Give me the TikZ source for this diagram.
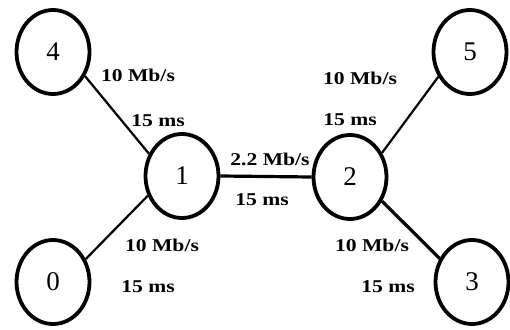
\documentclass[tikz,border=0pt]{standalone}
\usepackage{fontspec}
\setmainfont{Liberation Serif}
\newfontfamily\lblfont[FakeStretch=1.2]{Liberation Serif}
\usetikzlibrary{shapes.geometric}
\tikzset{
  host/.style={draw, ellipse, line width=3.8pt, minimum width=73pt, minimum height=84pt,
    inner sep=0pt, font=\fontsize{27}{27}\selectfont},
  link/.style={line width=2.2pt},
  biglink/.style={line width=3.2pt},
  lbl/.style={font=\lblfont\bfseries\fontsize{18}{18}\selectfont, inner sep=0pt}
}
\begin{document}
\begin{tikzpicture}[x=1pt,y=-1pt]
  \useasboundingbox (0,0) rectangle (510,329);
  % routers and end hosts
  \node[host] (n4) at (53,52)   {4};
  \node[host] (n5) at (470,52)  {5};
  \node[host] (n1) at (182,176) {1};
  \node[host] (n2) at (350,177) {2};
  \node[host] (n0) at (53,282)  {0};
  \node[host] (n3) at (472,282) {3};
  % links
  \draw[link]    (n4.-37) -- (n1.146);
  \draw[link]    (n1.210) -- (n0.35);
  \draw[link]    (n2.37)  -- (n5.218);
  \draw[biglink] (n2.-37) -- (n3.144);
  \draw[biglink] (n1.east) -- (n2.west);
  % link parameters
  \node[lbl] (b41) at (138,75)  {10 Mb/s};
  \node[lbl] (d41) at (158,121) {15 ms};
  \node[lbl] (b12) at (270,159) {2.2 Mb/s};
  \node[lbl] (d12) at (262,200) {15 ms};
  \node[lbl] (b25) at (360,78)  {10 Mb/s};
  \node[lbl] (d25) at (350,120) {15 ms};
  \node[lbl] (b10) at (162,245) {10 Mb/s};
  \node[lbl] (d10) at (148,287) {15 ms};
  \node[lbl] (b23) at (372,245) {10 Mb/s};
  \node[lbl] (d23) at (388,287) {15 ms};
\end{tikzpicture}
\end{document}
